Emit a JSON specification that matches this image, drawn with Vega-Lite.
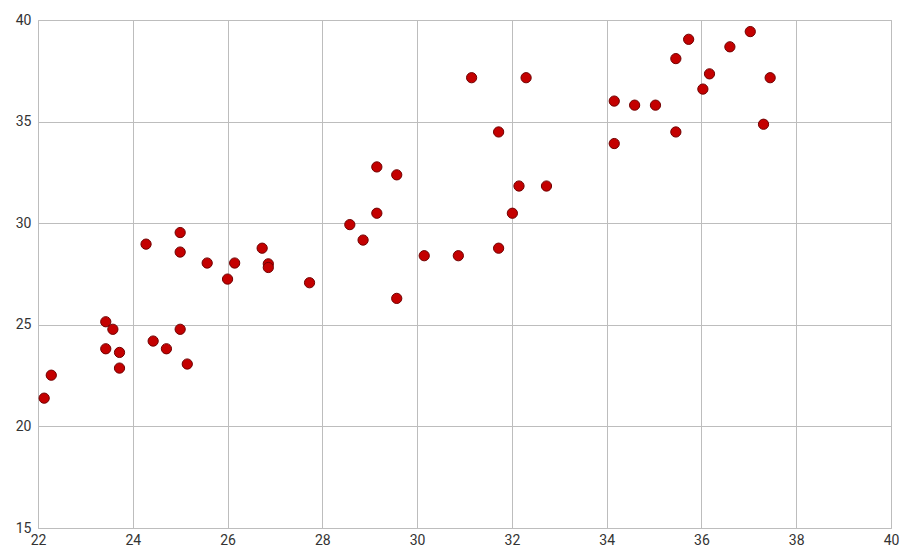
{
  "$schema": "https://vega.github.io/schema/vega-lite/v6.json",
  "width": 853,
  "height": 508,
  "autosize": "none",
  "padding": {"left": 38, "top": 20, "right": 12, "bottom": 21},
  "background": "white",
  "config": {"view": {"stroke": "#bdbdbd", "strokeWidth": 1}},
  "data": {"values": [
    {"x": 22.13, "y": 21.39}, {"x": 22.28, "y": 22.52}, {"x": 23.43, "y": 25.15}, {"x": 23.58, "y": 24.78},
    {"x": 23.43, "y": 23.82}, {"x": 23.72, "y": 23.64}, {"x": 23.72, "y": 22.87}, {"x": 24.28, "y": 28.97},
    {"x": 24.43, "y": 24.2}, {"x": 24.71, "y": 23.82}, {"x": 25.0, "y": 29.54}, {"x": 25.0, "y": 28.58},
    {"x": 25.0, "y": 24.78}, {"x": 25.15, "y": 23.07}, {"x": 25.57, "y": 28.04}, {"x": 26.0, "y": 27.25},
    {"x": 26.15, "y": 28.04}, {"x": 26.73, "y": 28.77}, {"x": 26.86, "y": 28.0}, {"x": 26.86, "y": 27.82},
    {"x": 27.73, "y": 27.07}, {"x": 31.15, "y": 37.16}, {"x": 32.3, "y": 37.16}, {"x": 31.72, "y": 34.49},
    {"x": 29.15, "y": 32.77}, {"x": 29.57, "y": 32.38}, {"x": 32.15, "y": 31.83}, {"x": 32.73, "y": 31.83},
    {"x": 29.15, "y": 30.49}, {"x": 32.01, "y": 30.49}, {"x": 28.58, "y": 29.93}, {"x": 28.86, "y": 29.17},
    {"x": 30.15, "y": 28.4}, {"x": 30.87, "y": 28.4}, {"x": 31.72, "y": 28.77}, {"x": 29.57, "y": 26.3},
    {"x": 34.16, "y": 36.01}, {"x": 34.59, "y": 35.81}, {"x": 35.03, "y": 35.81}, {"x": 34.16, "y": 33.92},
    {"x": 35.46, "y": 34.49}, {"x": 35.46, "y": 38.1}, {"x": 35.73, "y": 39.05}, {"x": 36.6, "y": 38.68},
    {"x": 37.03, "y": 39.43}, {"x": 36.17, "y": 37.35}, {"x": 36.03, "y": 36.6}, {"x": 37.45, "y": 37.16},
    {"x": 37.31, "y": 34.87}
  ]},
  "mark": {"type": "circle", "size": 105, "fill": "#c40000", "stroke": "#700000", "strokeWidth": 1, "opacity": 1},
  "encoding": {
    "x": {
      "field": "x", "type": "quantitative",
      "scale": {"domain": [22, 40], "nice": false, "zero": false},
      "axis": {"title": null, "values": [22, 24, 26, 28, 30, 32, 34, 36, 38, 40], "domain": false, "ticks": false,
        "grid": true, "gridColor": "#bdbdbd", "gridOpacity": 1, "labelFont": "Roboto", "labelFontSize": 14,
        "labelColor": "#333333", "labelPadding": 5, "labelFlush": false}
    },
    "y": {
      "field": "y", "type": "quantitative",
      "scale": {"domain": [15, 40], "nice": false, "zero": false},
      "axis": {"title": null, "values": [15, 20, 25, 30, 35, 40], "domain": false, "ticks": false,
        "grid": true, "gridColor": "#bdbdbd", "gridOpacity": 1, "labelFont": "Roboto", "labelFontSize": 14,
        "labelColor": "#333333", "labelPadding": 7, "labelFlush": false}
    }
  }
}
